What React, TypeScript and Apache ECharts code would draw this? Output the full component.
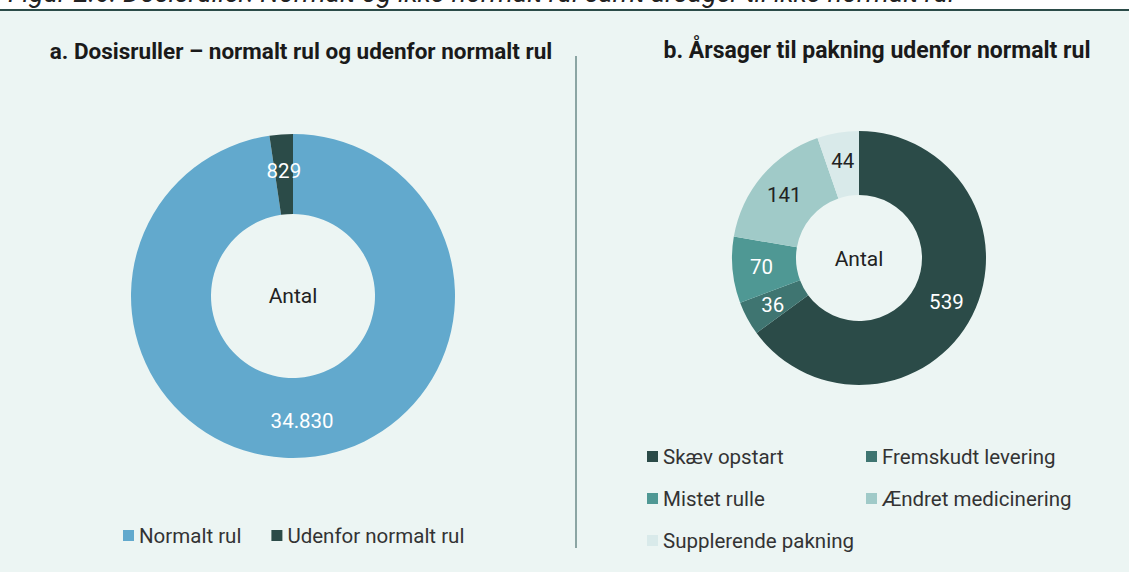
import React, { useEffect, useRef } from "react";
import * as echarts from "echarts";

const figureTitle = "Figur 2.6: Dosisruller: Normalt og ikke-normalt rul samt årsager til ikke-normalt rul";
const leftTitle = "a. Dosisruller – normalt rul og udenfor normalt rul";
const rightTitle = "b. Årsager til pakning udenfor normalt rul";
const centerLabel = "Antal";

const leftCategories = ["Normalt rul", "Udenfor normalt rul"];
const leftValues = [34830, 829];
const leftColors = ["#62a9cd", "#2b4b48"];

const rightCategories = [
  "Skæv opstart",
  "Fremskudt levering",
  "Mistet rulle",
  "Ændret medicinering",
  "Supplerende pakning",
];
const rightValues = [539, 36, 70, 141, 44];
const rightColors = ["#2b4b48", "#3f7571", "#4f9894", "#a0cac8", "#d9eaea"];
const rightLabelColors = ["#ffffff", "#ffffff", "#ffffff", "#222222", "#222222"];

const FONT = "Roboto, 'Noto Sans', sans-serif";

function fmt(v: number): string {
  return String(v).replace(/\B(?=(\d{3})+(?!\d))/g, ".");
}

export default function App() {
  const ref = useRef<HTMLDivElement>(null);

  useEffect(() => {
    if (!ref.current) return;
    const chart = echarts.init(ref.current, undefined, { renderer: "svg" });

    const leftData = leftCategories.map((name, i) => ({
      name,
      value: leftValues[i],
      itemStyle: { color: leftColors[i] },
      label: { color: "#ffffff" },
    }));
    const rightData = rightCategories.map((name, i) => ({
      name,
      value: rightValues[i],
      itemStyle: { color: rightColors[i] },
      label: { color: rightLabelColors[i] },
    }));

    const legendText = {
      fontFamily: FONT,
      fontSize: 20.5,
      color: "#333333",
      lineHeight: 20,
    };

    chart.setOption({
      animation: false,
      backgroundColor: "#ffffff",
      textStyle: { fontFamily: FONT },
      title: [
        {
          text: leftTitle,
          left: 296,
          top: 34,
          textAlign: "center",
          textStyle: { fontFamily: FONT, fontSize: 22.5, fontWeight: "bold", color: "#1a1a1a" },
        },
        {
          text: rightTitle,
          left: 872,
          top: 34,
          textAlign: "center",
          textStyle: { fontFamily: FONT, fontSize: 23, fontWeight: "bold", color: "#1a1a1a" },
        },
      ],
      graphic: [
        {
          type: "rect",
          z: -10,
          shape: { x: 0, y: 10, width: 1129, height: 562 },
          style: { fill: "#ecf5f3" },
        },
        {
          type: "line",
          shape: { x1: 0, y1: 10, x2: 1129, y2: 10 },
          style: { stroke: "#2b4b48", lineWidth: 2 },
        },
        {
          type: "text",
          x: 8,
          y: 6,
          style: {
            text: figureTitle,
            font: `italic 27px ${FONT}`,
            fill: "#222222",
            verticalAlign: "bottom",
          },
        },
        {
          type: "line",
          shape: { x1: 576, y1: 56, x2: 576, y2: 548 },
          style: { stroke: "#6b8a88", lineWidth: 1.5 },
        },
        {
          type: "text",
          x: 293,
          y: 296,
          style: {
            text: centerLabel,
            font: `21px ${FONT}`,
            fill: "#222222",
            align: "center",
            verticalAlign: "middle",
          },
        },
        {
          type: "text",
          x: 859,
          y: 259,
          style: {
            text: centerLabel,
            font: `21px ${FONT}`,
            fill: "#222222",
            align: "center",
            verticalAlign: "middle",
          },
        },
      ],
      legend: [
        {
          data: leftCategories,
          left: 123,
          top: 525,
          padding: 0,
          icon: "rect",
          itemWidth: 11,
          itemHeight: 11,
          itemGap: 30,
          textStyle: legendText,
          selectedMode: false,
        },
        {
          data: rightCategories,
          left: 647,
          top: 446,
          padding: 0,
          width: 470,
          icon: "rect",
          itemWidth: 11,
          itemHeight: 11,
          itemGap: 21,
          textStyle: { ...legendText, width: 182 },
          selectedMode: false,
        },
      ],
      series: [
        {
          type: "pie",
          center: [293, 296],
          radius: [82, 162],
          startAngle: 90,
          clockwise: true,
          avoidLabelOverlap: false,
          label: {
            show: true,
            position: "inside",
            fontFamily: FONT,
            fontSize: 20.5,
            formatter: (p: any) => fmt(p.value),
          },
          labelLine: { show: false },
          emphasis: { disabled: true },
          data: leftData,
        },
        {
          type: "pie",
          center: [859, 258],
          radius: [63, 127],
          startAngle: 90,
          clockwise: true,
          avoidLabelOverlap: false,
          label: {
            show: true,
            position: "inside",
            fontFamily: FONT,
            fontSize: 20.5,
            formatter: (p: any) => fmt(p.value),
          },
          labelLine: { show: false },
          emphasis: { disabled: true },
          data: rightData,
        },
      ],
    });

    return () => chart.dispose();
  }, []);

  return (
    <div
      ref={ref}
      style={{ position: "absolute", left: 0, top: 0, width: 1129, height: 572 }}
    />
  );
}
